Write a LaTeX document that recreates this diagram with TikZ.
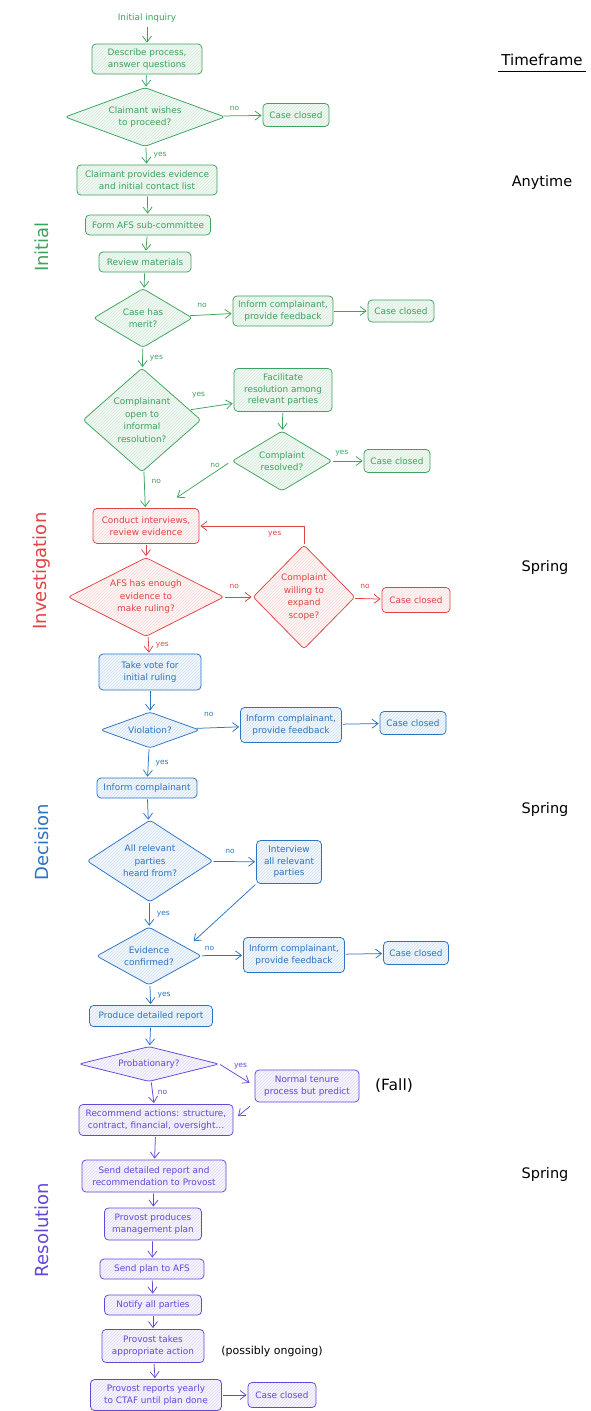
\documentclass[tikz,border=0pt]{standalone}
\usepackage{fontspec}
\setmainfont{DejaVu Sans}
\usetikzlibrary{shapes.geometric,arrows.meta,calc,patterns}
\definecolor{cg}{HTML}{3DA35D}
\definecolor{cr}{HTML}{E04444}
\definecolor{cb}{HTML}{2B74C4}
\definecolor{cp}{HTML}{6547D8}
\tikzset{
  boxbase/.style={draw, rounded corners=4pt, align=center, line width=0.75pt,
    font=\fontsize{8.9}{11.5}\selectfont, inner sep=2pt},
  diabase/.style={draw, shape=diamond, rounded corners=3pt, align=center, line width=0.75pt,
    font=\fontsize{8.9}{12.5}\selectfont, inner sep=0pt},
  hg/.style={preaction={fill=cg!6}, preaction={pattern=north east lines, pattern color=cg!22}},
  hr/.style={preaction={fill=cr!5}, preaction={pattern=north east lines, pattern color=cr!20}},
  hb/.style={preaction={fill=cb!6}, preaction={pattern=north east lines, pattern color=cb!22}},
  hp/.style={preaction={fill=cp!5}, preaction={pattern=north east lines, pattern color=cp!20}},
  gbox/.style={boxbase, draw=cg, hg, text=cg},
  rbox/.style={boxbase, draw=cr, hr, text=cr},
  bbox/.style={boxbase, draw=cb, hb, text=cb},
  pbox/.style={boxbase, draw=cp, hp, text=cp},
  gdia/.style={diabase, draw=cg, hg, text=cg},
  rdia/.style={diabase, draw=cr, hr, text=cr},
  bdia/.style={diabase, draw=cb, hb, text=cb},
  pdia/.style={diabase, draw=cp, hp, text=cp},
  arrbase/.style={-{Straight Barb[length=6pt,width=9pt]}, line width=0.75pt, shorten >=1pt, shorten <=1pt},
  garr/.style={arrbase, draw=cg},
  rarr/.style={arrbase, draw=cr},
  barr/.style={arrbase, draw=cb},
  parr/.style={arrbase, draw=cp},
  lbl/.style={font=\fontsize{7.5}{8}\selectfont, inner sep=1pt},
  seclbl/.style={font=\fontsize{18}{20}\selectfont, rotate=90},
  sidelbl/.style={font=\fontsize{14.5}{16}\selectfont, text=black},
}
\begin{document}
\begin{tikzpicture}[x=1pt,y=-1pt]
\fill[white] (0,0) rectangle (590,1411);
\useasboundingbox (0,0) rectangle (590,1411);

% ---------- Initial (green)
\node[font=\fontsize{8.9}{11}\selectfont, text=cg] (inq) at (147,18) {Initial inquiry};
\node[gbox, minimum width=110, minimum height=30] (desc) at (147,59) {Describe process,\\answer questions};
\node[gdia, minimum width=160, minimum height=59, aspect=2.7] (d1) at (145,117) {Claimant wishes\\to proceed?};
\node[gbox, minimum width=66, minimum height=23] (cc1) at (296,115) {Case closed};
\node[gbox, minimum width=140, minimum height=30] (evid) at (147,180) {Claimant provides evidence\\and initial contact list};
\node[gbox, minimum width=125, minimum height=20] (form) at (148,225) {Form AFS sub-committee};
\node[gbox, minimum width=92, minimum height=20] (review) at (145,262) {Review materials};
\node[gdia, minimum width=99, minimum height=59, aspect=1.68] (merit) at (143,318) {Case has\\merit?};
\node[gbox, minimum width=100, minimum height=30] (inf1) at (283,311) {Inform complainant,\\provide feedback};
\node[gbox, minimum width=66, minimum height=22] (cc2) at (401,311) {Case closed};
\node[gdia, minimum width=118, minimum height=104, aspect=1.13] (open) at (142,420) {Complainant\\open to\\informal\\resolution?};
\node[gbox, minimum width=98, minimum height=43] (facil) at (283,390) {Facilitate\\resolution among\\relevant parties};
\node[gdia, minimum width=100, minimum height=60, aspect=1.7] (resolved) at (282,461) {Complaint\\resolved?};
\node[gbox, minimum width=66, minimum height=23] (cc3) at (397,461) {Case closed};

% ---------- Investigation (red)
\node[rbox, minimum width=106, minimum height=35] (conduct) at (146,526) {Conduct interviews,\\review evidence};
\node[rdia, minimum width=156, minimum height=79, aspect=1.97] (afs) at (146,597) {AFS has enough\\evidence to\\make ruling?};
\node[rdia, minimum width=102, minimum height=104, aspect=1] (willing) at (304,597) {Complaint\\willing to\\expand\\scope?};
\node[rbox, minimum width=68, minimum height=25] (cc4) at (416,600) {Case closed};

% ---------- Decision (blue)
\node[bbox, minimum width=102, minimum height=36] (vote) at (150,672) {Take vote for\\initial ruling};
\node[bdia, minimum width=99, minimum height=36, aspect=2.8] (viol) at (150,730) {Violation?};
\node[bbox, minimum width=101, minimum height=35] (inf2) at (291,725) {Inform complainant,\\provide feedback};
\node[bbox, minimum width=66, minimum height=23] (cc5) at (413,723) {Case closed};
\node[bbox, minimum width=100, minimum height=20] (informc) at (147,788) {Inform complainant};
\node[bdia, minimum width=126, minimum height=82, aspect=1.54] (all) at (150,861) {All relevant\\parties\\heard from?};
\node[bbox, minimum width=65, minimum height=43] (interview) at (289,862) {Interview\\all relevant\\parties};
\node[bdia, minimum width=105, minimum height=58, aspect=1.8] (evconf) at (149,956) {Evidence\\confirmed?};
\node[bbox, minimum width=101, minimum height=35] (inf3) at (294,955) {Inform complainant,\\provide feedback};
\node[bbox, minimum width=65, minimum height=23] (cc6) at (416,953) {Case closed};
\node[bbox, minimum width=123, minimum height=21] (produce) at (151,1016) {Produce detailed report};

% ---------- Resolution (purple)
\node[pdia, minimum width=140, minimum height=35, aspect=4] (prob) at (149,1064) {Probationary?};
\node[pbox, minimum width=104, minimum height=32] (normal) at (307,1086) {Normal tenure\\process but predict};
\node[pbox, minimum width=154, minimum height=31] (recommend) at (156,1120) {Recommend actions: structure,\\contract, financial, oversight...};
\node[pbox, minimum width=144, minimum height=32] (send) at (154,1176) {Send detailed report and\\recommendation to Provost};
\node[pbox, minimum width=97, minimum height=32] (provprod) at (153,1224) {Provost produces\\management plan};
\node[pbox, minimum width=104, minimum height=20] (sendplan) at (152,1269) {Send plan to AFS};
\node[pbox, minimum width=97, minimum height=20] (notify) at (153,1305) {Notify all parties};
\node[pbox, minimum width=102, minimum height=33] (takes) at (153,1346) {Provost takes\\appropriate action};
\node[pbox, minimum width=131, minimum height=31] (reports) at (156,1395) {Provost reports yearly\\to CTAF until plan done};
\node[pbox, minimum width=68, minimum height=25] (cc7) at (282,1395) {Case closed};

% ---------- side labels
\node[seclbl, text=cg] (sInit) at (42,247) {Initial};
\node[seclbl, text=cr] (sInv) at (42,571) {Investigation};
\node[seclbl, text=cb] (sDec) at (42,842) {Decision};
\node[seclbl, text=cp] (sRes) at (42,1230) {Resolution};
\node[sidelbl, font=\fontsize{15}{17}\selectfont] (tf) at (542,60) {Timeframe};
\draw[line width=1.3pt] ([yshift=-2pt]tf.south west) -- ([yshift=-2pt]tf.south east);
\node[sidelbl] (t1) at (542,182) {Anytime};
\node[sidelbl] (t2) at (545,567) {Spring};
\node[sidelbl] (t3) at (545,809) {Spring};
\node[sidelbl] (t4) at (545,1174) {Spring};
\node[sidelbl, font=\fontsize{15.5}{17}\selectfont] (t5) at (394,1086) {(Fall)};
\node[sidelbl, font=\fontsize{11}{13}\selectfont] (t6) at (272,1351) {(possibly ongoing)};

% ---------- connectors: green
\draw[garr] (inq) -- (desc);
\draw[garr] (desc) -- (d1);
\draw[garr] (d1) -- node[lbl, pos=0.3, above=4pt, text=cg]{no} (cc1);
\draw[garr] (d1) -- node[lbl, right=6pt, text=cg]{yes} (evid);
\draw[garr] (evid) -- (form);
\draw[garr] (form) -- (review);
\draw[garr] (review) -- (merit);
\draw[garr] (merit) -- node[lbl, pos=0.3, above=6pt, text=cg]{no} (inf1);
\draw[garr] (inf1) -- (cc2);
\draw[garr] (merit) -- node[lbl, right=6pt, text=cg]{yes} (open);
\draw[garr] (open.12) -- node[lbl, pos=0.2, above=9pt, text=cg]{yes} (facil.195);
\draw[garr] (facil) -- (resolved);
\draw[garr] (resolved) -- node[lbl, pos=0.3, above=4pt, text=cg]{yes} (cc3);
\draw[garr, shorten <=4pt] (resolved.west) -- node[lbl, pos=0.3, above=3pt, text=cg]{no} ($(conduct.north)+(30,-10)$);
\draw[garr] (open) -- node[lbl, pos=0.3, right=6pt, text=cg]{no} (conduct);

% red
\draw[rarr] (conduct) -- (afs);
\draw[rarr] (afs) -- node[lbl, pos=0.35, above=7pt, text=cr]{no} (willing);
\draw[rarr] (willing) -- node[lbl, pos=0.4, above=9pt, text=cr]{no} (cc4);
\draw[rarr] (willing.north) |- node[lbl, pos=0.64, below=4pt, text=cr]{yes} (conduct.east);
\draw[rarr] (afs) -- node[lbl, right=6pt, text=cr]{yes} (vote);

% blue
\draw[barr] (vote) -- (viol);
\draw[barr] (viol) -- node[lbl, pos=0.3, above=10pt, text=cb]{no} (inf2);
\draw[barr] (inf2) -- (cc5);
\draw[barr] (viol) -- node[lbl, right=6pt, text=cb]{yes} (informc);
\draw[barr] (informc) -- (all);
\draw[barr] (all) -- node[lbl, pos=0.4, above=7pt, text=cb]{no} (interview);
\draw[barr, shorten >=3pt] (interview.south west) -- ($(evconf.north east)+(16,2)$);
\draw[barr] (all) -- node[lbl, right=6pt, text=cb]{yes} (evconf);
\draw[barr] (evconf) -- node[lbl, pos=0.2, above=4pt, text=cb]{no} (inf3);
\draw[barr] (inf3) -- (cc6);
\draw[barr] (evconf) -- node[lbl, right=6pt, text=cb]{yes} (produce);
\draw[barr] (produce) -- (prob);

% purple
\draw[parr, shorten >=6pt] (prob.east) -- node[lbl, pos=0.6, above=7pt, text=cp]{yes} (normal.west);
\draw[parr, shorten >=6pt, shorten <=6pt] (normal.south west) -- (recommend.east);
\draw[parr] (prob) -- node[lbl, right=4pt, text=cp]{no} (recommend);
\draw[parr] (recommend) -- (send);
\draw[parr] (send) -- (provprod);
\draw[parr] (provprod) -- (sendplan);
\draw[parr] (sendplan) -- (notify);
\draw[parr] (notify) -- (takes);
\draw[parr] (takes) -- (reports);
\draw[parr] (reports) -- (cc7);
\end{tikzpicture}
\end{document}
